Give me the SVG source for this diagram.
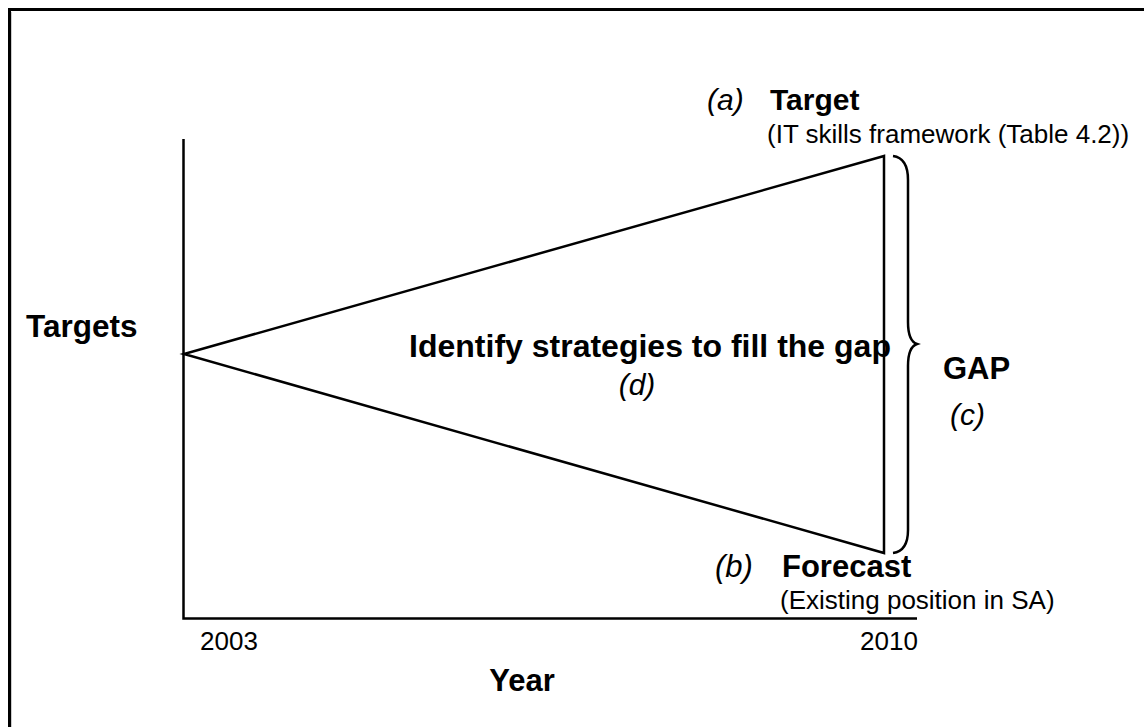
<svg xmlns="http://www.w3.org/2000/svg" width="1144" height="727" viewBox="0 0 1144 727">
<style>
.ln{stroke:#000;stroke-width:2.5;fill:none}
.t{font-family:"Liberation Sans",Arial,sans-serif;fill:#000}
.b{font-weight:bold}
.i{font-style:italic}
</style>
<rect x="0" y="0" width="1144" height="727" fill="#fff"/>
<g id="frame">
<line x1="11" y1="12" x2="11" y2="727" stroke="#bbb" stroke-width="1.5"/>
<path d="M9.5 727 V9.5 H1144" stroke="#000" stroke-width="3" fill="none"/>
</g>
<g id="axes">
<path class="ln" d="M183.5 139 V618.5 H917"/>
</g>
<g id="connectors">
<path id="triangle" class="ln" d="M884 156 L184 354 L884 553 Z"/>
<path id="brace" class="ln" d="M893 156 Q908 158 908 180 V322 Q908 341 917 344 Q908 347 908 366 V530 Q908 551 893 553"/>
</g>
<g id="labels">
<text class="t b" x="26" y="337" font-size="31.5">Targets</text>
<text class="t b" x="650" y="357" font-size="32" text-anchor="middle">Identify strategies to fill the gap</text>
<text class="t i" x="637" y="395" font-size="30" text-anchor="middle">(d)</text>
<text class="t b" x="943" y="379" font-size="31">GAP</text>
<text class="t i" x="950" y="425" font-size="30">(c)</text>
<text class="t b" x="522" y="691" font-size="31" text-anchor="middle">Year</text>
<text class="t" x="200" y="650" font-size="26">2003</text>
<text class="t" x="860" y="650" font-size="26">2010</text>
</g>
<g id="target">
<text class="t i" x="707" y="110" font-size="30">(a)</text>
<text class="t b" x="770" y="110" font-size="30">Target</text>
<text class="t" x="767" y="143" font-size="26">(IT skills framework (Table 4.2))</text>
</g>
<g id="forecast">
<text class="t i" x="715" y="577" font-size="31">(b)</text>
<text class="t b" x="782" y="577" font-size="31">Forecast</text>
<text class="t" x="780" y="609" font-size="26">(Existing position in SA)</text>
</g>
</svg>
